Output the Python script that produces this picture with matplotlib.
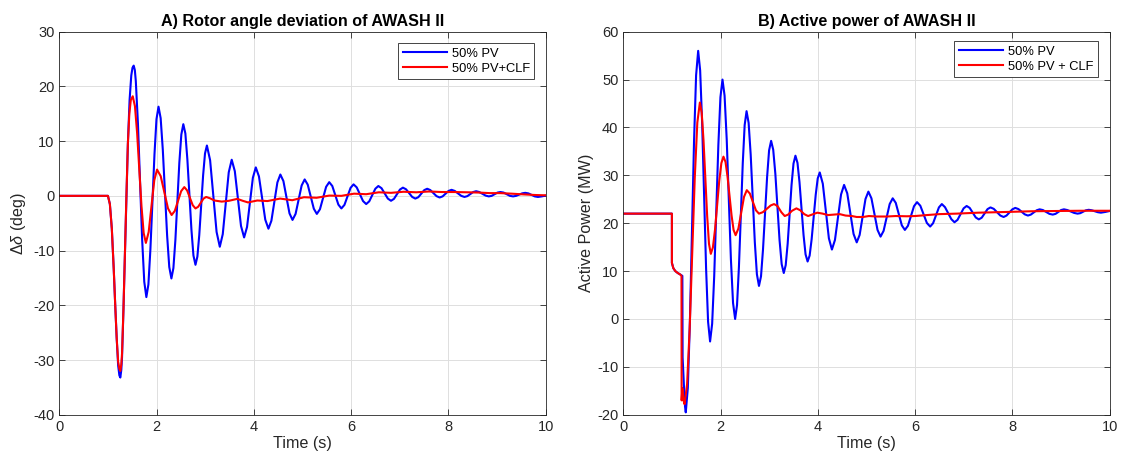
import matplotlib
matplotlib.use("Agg")
import matplotlib.pyplot as plt

plt.rcParams['font.family'] = ['Liberation Sans', 'DejaVu Sans']
plt.rcParams['mathtext.fontset'] = 'custom'
plt.rcParams['mathtext.rm'] = 'Liberation Sans'
plt.rcParams['mathtext.it'] = 'Liberation Sans:italic'
plt.rcParams['axes.unicode_minus'] = False

# ---- A) rotor angle deviation (deg) ----
t_ang_pv = [0, 1.0, 1.04, 1.08, 1.12, 1.15, 1.18, 1.21, 1.235, 1.255, 1.275, 1.29, 1.32, 1.35, 1.38, 1.41, 1.445, 1.48, 1.505, 1.53,
            1.553, 1.573, 1.617, 1.66, 1.703, 1.747, 1.79,
            1.832, 1.873, 1.915, 1.957, 1.998, 2.04,
            2.084, 2.128, 2.173, 2.217, 2.261, 2.305,
            2.346, 2.387, 2.428, 2.468, 2.509, 2.55,
            2.592, 2.633, 2.675, 2.717, 2.758, 2.80,
            2.839, 2.878, 2.918, 2.957, 2.996, 3.035,
            3.101, 3.168, 3.234, 3.30,
            3.361, 3.423, 3.484, 3.545,
            3.609, 3.673, 3.736, 3.80,
            3.86, 3.92, 3.98, 4.04,
            4.105, 4.17, 4.235, 4.30,
            4.361, 4.423, 4.484, 4.545,
            4.608, 4.67, 4.733, 4.795,
            4.858, 4.92, 4.983, 5.045,
            5.108, 5.17, 5.233, 5.295,
            5.359, 5.423, 5.486, 5.55,
            5.613, 5.675, 5.738, 5.80,
            5.863, 5.925, 5.988, 6.05,
            6.115, 6.18, 6.245, 6.31,
            6.373, 6.435, 6.498, 6.56,
            6.625, 6.69, 6.755, 6.82,
            6.881, 6.943, 7.004, 7.065,
            7.129, 7.193, 7.256, 7.32,
            7.381, 7.443, 7.504, 7.565,
            7.629, 7.693, 7.756, 7.82,
            7.881, 7.943, 8.004, 8.065,
            8.131, 8.198, 8.264, 8.33,
            8.39, 8.45, 8.51, 8.57,
            8.635, 8.70, 8.765, 8.83,
            8.89, 8.95, 9.01, 9.07,
            9.135, 9.20, 9.265, 9.33,
            9.393, 9.455, 9.518, 9.58,
            9.645, 9.71, 9.775, 9.84,
            9.92, 10.0]
ang_pv = [0, 0, -1.5, -6, -13.5, -20, -26, -31, -32.8, -33.2, -31.8, -29.5, -20.5, -10.3, 0, 9.5, 17.5, 22, 23.4, 23.8,
          23.0, 21.0, 13.2, 2.65, -7.9, -15.7, -18.5,
          -16.2, -9.8, -1.1, 7.6, 14.0, 16.3,
          14.2, 8.45, 0.6, -7.25, -13.0, -15.1,
          -13.2, -8.05, -1.0, 6.05, 11.2, 13.1,
          11.4, 6.7, 0.25, -6.2, -10.9, -12.6,
          -11.1, -7.15, -1.7, 3.75, 7.75, 9.2,
          6.5, -0.05, -6.6, -9.3,
          -7.0, -1.35, 4.3, 6.6,
          4.5, -0.5, -5.5, -7.6,
          -5.7, -1.2, 3.3, 5.2,
          3.55, -0.4, -4.35, -6.0,
          -4.55, -1.05, 2.45, 3.9,
          2.7, -0.25, -3.2, -4.4,
          -3.3, -0.7, 1.9, 3.0,
          2.05, -0.15, -2.35, -3.3,
          -2.45, -0.4, 1.65, 2.5,
          1.8, 0.1, -1.6, -2.3,
          -1.65, -0.1, 1.45, 2.1,
          1.55, 0.3, -0.95, -1.5,
          -1.0, 0.15, 1.3, 1.8,
          1.4, 0.45, -0.5, -0.9,
          -0.55, 0.3, 1.15, 1.5,
          1.2, 0.5, -0.2, -0.5,
          -0.25, 0.4, 1.05, 1.3,
          1.05, 0.5, -0.05, -0.3,
          -0.1, 0.4, 0.9, 1.1,
          0.9, 0.45, 0.0, -0.2,
          -0.05, 0.33, 0.7, 0.85,
          0.7, 0.38, 0.05, -0.1,
          0.0, 0.3, 0.6, 0.7,
          0.6, 0.3, 0.0, -0.1,
          0.0, 0.23, 0.46, 0.55,
          0.45, 0.18, -0.1, -0.2,
          -0.1, 0.05]

t_ang_clf = [0, 1.0, 1.04, 1.08, 1.12, 1.15, 1.18, 1.21, 1.235, 1.255, 1.275, 1.29, 1.32, 1.35, 1.38, 1.41, 1.44, 1.47, 1.51,
             1.555, 1.60, 1.645, 1.69, 1.735, 1.78,
             1.838, 1.895, 1.953, 2.01,
             2.085, 2.16, 2.235, 2.31,
             2.375, 2.44, 2.505, 2.57,
             2.628, 2.685, 2.743, 2.80,
             2.855, 2.91, 2.965, 3.02,
             3.10, 3.19, 3.34, 3.49, 3.66, 3.77, 3.88, 4.07, 4.28, 4.54, 4.79, 5.03, 5.29, 5.55, 5.80, 6.06,
             6.31, 6.57, 6.82, 7.08, 7.34, 7.60, 7.86, 8.11, 8.40, 8.63, 8.85, 9.07, 9.30, 9.58, 9.80, 10.0]
ang_clf = [0, 0, -1.5, -6, -13.5, -20, -26, -30.3, -31.6, -32.0, -30.8, -28.8, -20.5, -10.3, 0, 9.5, 15.0, 17.5, 18.2,
           16.4, 11.5, 4.8, -1.9, -6.8, -8.6,
           -6.6, -1.9, 2.85, 4.8,
           3.6, 0.65, -2.3, -3.5,
           -2.75, -0.95, 0.85, 1.6,
           1.0, -0.35, -1.7, -2.3,
           -2.0, -1.25, -0.5, -0.2,
           -0.45, -0.85, -1.05, -0.9, -0.55, -0.9, -1.2, -0.85, -0.95, -0.5, -0.8, -0.25, -0.35, 0.05, 0.0, 0.4,
           0.3, 0.65, 0.55, 0.75, 0.65, 0.8, 0.7, 0.7, 0.65, 0.6, 0.5, 0.5, 0.4, 0.25, 0.15, 0.1]

# ---- B) active power (MW) ----
t_pow_pv = [0, 1.0, 1.0, 1.03, 1.07, 1.12, 1.17, 1.215, 1.22, 1.25, 1.27, 1.285, 1.3275, 1.37, 1.4125, 1.455, 1.4975, 1.54,
            1.581, 1.622, 1.6625, 1.703, 1.744, 1.785,
            1.8275, 1.87, 1.9125, 1.955, 1.9975, 2.04,
            2.083, 2.127, 2.17, 2.213, 2.257, 2.30,
            2.339, 2.378, 2.418, 2.457, 2.496, 2.535,
            2.5775, 2.62, 2.6625, 2.705, 2.7475, 2.79,
            2.832, 2.873, 2.915, 2.957, 2.998, 3.04,
            3.083, 3.127, 3.17, 3.213, 3.257, 3.30,
            3.34, 3.38, 3.42, 3.46, 3.50, 3.54,
            3.582, 3.623, 3.665, 3.707, 3.748, 3.79,
            3.832, 3.873, 3.915, 3.957, 3.998, 4.04,
            4.1025, 4.165, 4.2275, 4.29,
            4.3525, 4.415, 4.4775, 4.54,
            4.605, 4.67, 4.735, 4.80,
            4.86, 4.92, 4.98, 5.04,
            5.1025, 5.165, 5.2275, 5.29,
            5.3525, 5.415, 5.4775, 5.54,
            5.6025, 5.665, 5.7275, 5.79,
            5.8525, 5.915, 5.9775, 6.04,
            6.1075, 6.175, 6.2425, 6.31,
            6.37, 6.43, 6.49, 6.55,
            6.615, 6.68, 6.745, 6.81,
            6.8725, 6.935, 6.9975, 7.06,
            7.1225, 7.185, 7.2475, 7.31,
            7.37, 7.43, 7.49, 7.55,
            7.6175, 7.685, 7.7525, 7.82,
            7.88, 7.94, 8.00, 8.06,
            8.125, 8.19, 8.255, 8.32,
            8.38, 8.44, 8.50, 8.56,
            8.6275, 8.695, 8.7625, 8.83,
            8.8875, 8.945, 9.0025, 9.06,
            9.13, 9.20, 9.27, 9.34,
            9.3975, 9.455, 9.5125, 9.57,
            9.6325, 9.695, 9.7575, 9.82,
            9.91, 10.0]
pow_pv = [22, 22, 11.7, 10.6, 10.0, 9.6, 9.3, 9.0, -8.0, -14.5, -18.3, -19.5, -14.4, -0.6, 18.25, 37.1, 50.9, 56.0,
          51.9, 40.8, 25.65, 10.5, -0.6, -4.7,
          -1.0, 9.0, 22.65, 36.3, 46.3, 50.0,
          46.65, 37.5, 25.0, 12.5, 3.35, 0.0,
          2.9, 10.85, 21.7, 32.55, 40.5, 43.4,
          40.95, 34.3, 25.15, 16.0, 9.35, 6.9,
          8.9, 14.5, 22.05, 29.6, 35.2, 37.2,
          35.35, 30.3, 23.4, 16.5, 11.45, 9.6,
          11.25, 15.7, 21.85, 28.0, 32.45, 34.1,
          32.6, 28.6, 23.05, 17.5, 13.5, 12.0,
          13.25, 16.65, 21.3, 25.95, 29.35, 30.6,
          28.25, 22.55, 16.85, 14.5,
          16.5, 21.25, 26.0, 28.0,
          26.25, 22.0, 17.75, 16.0,
          17.55, 21.3, 25.05, 26.6,
          25.2, 21.9, 18.6, 17.2,
          18.4, 21.2, 24.0, 25.2,
          24.25, 21.9, 19.55, 18.6,
          19.45, 21.5, 23.55, 24.4,
          23.65, 21.85, 20.05, 19.3,
          20.0, 21.65, 23.3, 24.0,
          23.35, 22.1, 20.85, 20.2,
          20.7, 21.9, 23.1, 23.6,
          23.2, 22.2, 21.2, 20.8,
          21.15, 22.05, 22.95, 23.3,
          23.0, 22.3, 21.6, 21.3,
          21.6, 22.25, 22.9, 23.2,
          22.95, 22.4, 21.85, 21.6,
          21.8, 22.25, 22.7, 22.9,
          22.75, 22.35, 21.95, 21.8,
          21.95, 22.35, 22.75, 22.9,
          22.75, 22.45, 22.15, 22.0,
          22.1, 22.4, 22.7, 22.8,
          22.7, 22.5, 22.3, 22.2,
          22.35, 22.55]

t_pow_clf = [0, 1.0, 1.0, 1.03, 1.07, 1.12, 1.17, 1.197, 1.20, 1.215, 1.235, 1.26, 1.3125, 1.365, 1.4175, 1.47, 1.5225, 1.575,
             1.6125, 1.65, 1.6875, 1.725, 1.7625, 1.80,
             1.843, 1.887, 1.93, 1.973, 2.017, 2.06,
             2.102, 2.143, 2.185, 2.227, 2.268, 2.31,
             2.3675, 2.425, 2.4825, 2.54,
             2.6025, 2.665, 2.7275, 2.79,
             2.87, 2.95, 3.03, 3.10, 3.17, 3.25, 3.32, 3.39, 3.47, 3.56, 3.64, 3.72, 3.80, 3.88, 3.99, 4.10,
             4.21, 4.33, 4.45, 4.57, 4.70, 4.80, 4.93, 5.05, 5.21, 5.42, 5.60, 5.83, 6.00, 6.24, 6.50, 6.85,
             7.30, 7.88, 8.40, 8.91, 9.40, 10.0]
pow_clf = [22, 22, 11.7, 10.6, 10.0, 9.6, 9.3, 9.0, -17.0, -14.5, -16.8, -17.8, -13.6, -2.05, 13.7, 29.45, 41.0, 45.2,
           43.1, 37.3, 29.4, 21.5, 15.7, 13.6,
           14.95, 18.7, 23.75, 28.8, 32.55, 33.9,
           32.8, 29.8, 25.7, 21.6, 18.6, 17.5,
           18.9, 22.2, 25.5, 26.9,
           26.2, 24.45, 22.7, 22.0,
           22.3, 23.0, 23.7, 24.0, 23.6, 22.3, 21.5, 21.8, 22.6, 23.1, 22.7, 21.9, 21.5, 21.8, 22.2, 22.0,
           21.7, 21.8, 21.9, 21.6, 21.5, 21.3, 21.3, 21.5, 21.4, 21.4, 21.5, 21.45, 21.5, 21.7, 21.9, 22.0,
           22.2, 22.35, 22.5, 22.55, 22.6, 22.6]

x_ticks = [0, 2, 4, 6, 8, 10]
ang_ticks = [-40, -30, -20, -10, 0, 10, 20, 30]
pow_ticks = [-20, -10, 0, 10, 20, 30, 40, 50, 60]

dark = (0.15, 0.15, 0.15)

fig = plt.figure(figsize=(11.23, 4.66), dpi=100)
ax1 = fig.add_axes([0.0528, 0.110, 0.4331, 0.822])
ax2 = fig.add_axes([0.5550, 0.110, 0.4331, 0.822])


def style(ax):
    ax.set_xlim(0, 10)
    ax.set_xticks(x_ticks)
    ax.grid(True, color=(0.87, 0.87, 0.87), linewidth=0.7)
    ax.set_axisbelow(True)
    ax.tick_params(direction='in', length=4.5, width=0.6, colors=dark, labelsize=10.5,
                   top=True, right=True)
    for s in ax.spines.values():
        s.set_color(dark)
        s.set_linewidth(0.6)
    ax.set_xlabel('Time (s)', fontsize=11.6, color=dark, labelpad=2)


ax1.plot(t_ang_pv, ang_pv, color=(0, 0, 1), lw=1.5, label='50% PV')
ax1.plot(t_ang_clf, ang_clf, color=(1, 0, 0), lw=1.5, label='50% PV+CLF')
style(ax1)
ax1.set_ylim(-40, 30)
ax1.set_yticks(ang_ticks)
ax1.set_ylabel(r'$\Delta\delta$ (deg)', fontsize=11.6, color=dark, labelpad=4)
ax1.set_title('A) Rotor angle deviation of AWASH II', fontsize=11.6, fontweight='bold', pad=4)

ax2.plot(t_pow_pv, pow_pv, color=(0, 0, 1), lw=1.5, label='50% PV')
ax2.plot(t_pow_clf, pow_clf, color=(1, 0, 0), lw=1.5, label='50% PV + CLF')
style(ax2)
ax2.set_ylim(-20, 60)
ax2.set_yticks(pow_ticks)
ax2.set_ylabel('Active Power (MW)', fontsize=11.6, color=dark, labelpad=2)
ax2.set_title('B) Active power of AWASH II', fontsize=11.6, fontweight='bold', pad=4)

for ax, anchor in [(ax1, (0.977, 0.9705)), (ax2, (0.9753, 0.9757))]:
    leg = ax.legend(loc='upper right', bbox_to_anchor=anchor, borderaxespad=0, fontsize=9.3,
                    fancybox=False, framealpha=1, edgecolor=dark, handlelength=3.4,
                    handletextpad=0.4, labelspacing=0.25, borderpad=0.35)
    leg.get_frame().set_linewidth(0.6)

fig.savefig('out.png', dpi=100)
